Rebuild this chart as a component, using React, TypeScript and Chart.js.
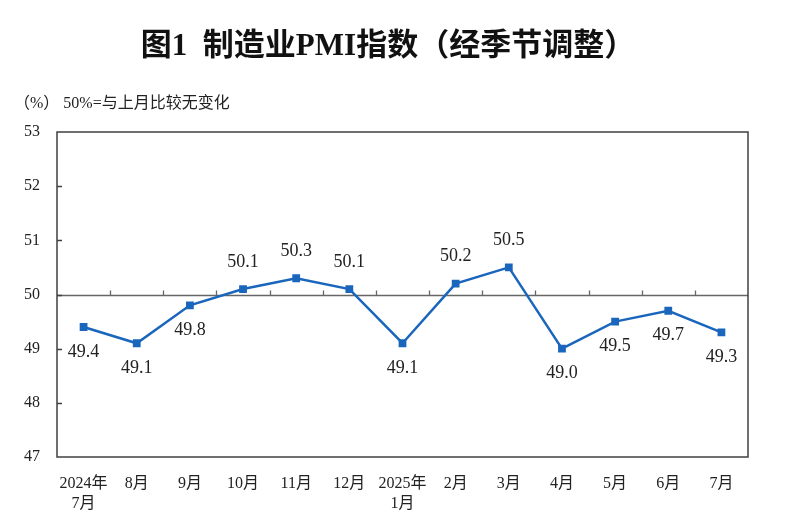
import React, { useEffect, useRef } from "react";
import { Chart, registerables } from "chart.js";

Chart.register(...registerables);

const TITLE = "图1  制造业PMI指数（经季节调整）";
const SUBTITLE = "（%） 50%=与上月比较无变化";
const CATEGORIES: (string | string[])[] = [
  ["2024年", "7月"], "8月", "9月", "10月", "11月", "12月", ["2025年", "1月"],
  "2月", "3月", "4月", "5月", "6月", "7月",
];
const PMI_VALUES = [49.4, 49.1, 49.8, 50.1, 50.3, 50.1, 49.1, 50.2, 50.5, 49.0, 49.5, 49.7, 49.3];
const Y_MIN = 47;
const Y_MAX = 53;
const BASELINE = 50;

const SERIF = "'Liberation Serif', 'Noto Sans CJK SC', serif";
const BLUE = "#1a66bd";
const AXIS = "#404040";

const decorPlugin = {
  id: "decor",
  beforeDatasetsDraw(chart: any) {
    const { ctx, chartArea: a, scales } = chart;
    const y = scales.y;
    const x = scales.x;
    ctx.save();
    const yb = Math.round(y.getPixelForValue(BASELINE)) + 0.5;
    ctx.strokeStyle = "#666";
    ctx.lineWidth = 1.3;
    ctx.beginPath();
    ctx.moveTo(a.left, yb);
    ctx.lineTo(a.right, yb);
    const n = x.ticks.length;
    const step = (a.right - a.left) / n;
    for (let i = 1; i < n; i++) {
      const px = Math.round(a.left + step * i) + 0.5;
      ctx.moveTo(px, yb);
      ctx.lineTo(px, yb - 5);
    }
    ctx.stroke();
    ctx.strokeStyle = AXIS;
    ctx.lineWidth = 1.5;
    ctx.beginPath();
    for (let v = Y_MIN + 1; v < Y_MAX; v++) {
      const py = Math.round(y.getPixelForValue(v)) + 0.5;
      ctx.moveTo(a.left, py);
      ctx.lineTo(a.left + 5, py);
    }
    ctx.stroke();
    ctx.strokeStyle = AXIS;
    ctx.lineWidth = 1.5;
    ctx.strokeRect(a.left, a.top, a.right - a.left, a.bottom - a.top);
    ctx.restore();
  },
  afterDraw(chart: any) {
    const { ctx } = chart;
    ctx.save();
    ctx.fillStyle = "#111";
    ctx.textBaseline = "middle";
    ctx.textAlign = "center";
    ctx.font = `bold 31px ${SERIF}`;
    ctx.fillText(TITLE, 388, 47);
    ctx.textAlign = "left";
    ctx.font = `16px ${SERIF}`;
    ctx.fillStyle = "#222";
    ctx.fillText(SUBTITLE, 14, 104);
    const meta = chart.getDatasetMeta(0);
    ctx.font = `18px ${SERIF}`;
    ctx.fillStyle = "#222";
    ctx.textAlign = "center";
    meta.data.forEach((pt: any, i: number) => {
      const v = PMI_VALUES[i];
      const above = v > BASELINE;
      const ty = above ? pt.y - 27 : pt.y + 25;
      ctx.fillText(v.toFixed(1), pt.x, ty);
    });
    ctx.restore();
  },
};

export default function App() {
  const ref = useRef<HTMLCanvasElement | null>(null);
  useEffect(() => {
    if (!ref.current) return;
    const chart = new Chart(ref.current, {
      type: "line",
      data: {
        labels: CATEGORIES,
        datasets: [
          {
            data: PMI_VALUES,
            borderColor: BLUE,
            backgroundColor: BLUE,
            borderWidth: 2.5,
            pointStyle: "rect",
            pointRadius: 5.5,
            pointBorderWidth: 0,
            tension: 0,
          },
        ],
      },
      options: {
        animation: false,
        responsive: false,
        devicePixelRatio: 1,
        layout: { padding: { left: 0, right: 47, top: 132, bottom: 0 } },
        plugins: { legend: { display: false }, tooltip: { enabled: false }, title: { display: false } },
        scales: {
          x: {
            offset: true,
            grid: { display: false, drawTicks: false },
            border: { display: false },
            ticks: {
              color: "#222",
              font: { family: SERIF, size: 16, lineHeight: 1.25 },
              padding: 17,
              maxRotation: 0,
              autoSkip: false,
            },
            afterFit: (s: any) => {
              s.height = 72;
            },
          },
          y: {
            min: Y_MIN,
            max: Y_MAX,
            grid: { display: false, drawTicks: false },
            border: { display: false },
            ticks: {
              stepSize: 1,
              color: "#222",
              font: { family: SERIF, size: 16 },
              padding: 17,
            },
            afterFit: (s: any) => {
              s.width = 57;
            },
          },
        },
      },
      plugins: [decorPlugin],
    });
    return () => chart.destroy();
  }, []);
  return (
    <div style={{ position: "absolute", left: 0, top: 0, width: 795, height: 529, background: "#fff" }}>
      <canvas ref={ref} width={795} height={529} style={{ width: 795, height: 529 }} />
    </div>
  );
}
